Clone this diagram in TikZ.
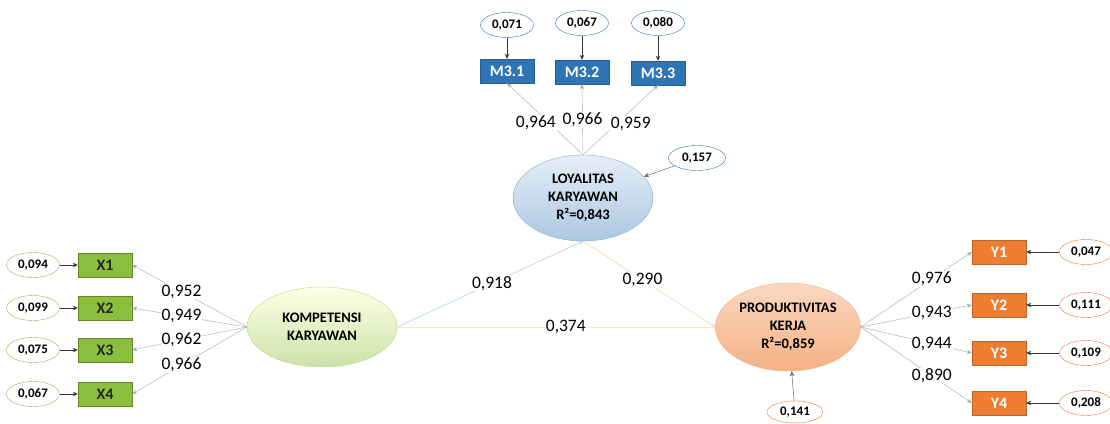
\documentclass[tikz,border=0pt]{standalone}
\usepackage{fontspec}
\setmainfont{Carlito}
\usetikzlibrary{arrows.meta, positioning, shapes.geometric}
\definecolor{mblue}{HTML}{2E75B6}
\definecolor{xgreen}{HTML}{8DBF3E}
\definecolor{yorange}{HTML}{ED7D31}
\definecolor{xolive}{HTML}{A8A85A}

\begin{document}
\begin{tikzpicture}[x=1pt, y=-1pt,
  latent/.style={draw, ellipse, align=center, inner sep=0pt, minimum width=145pt, minimum height=86pt, font=\bfseries\fontsize{14.5}{18}\selectfont},
  indicator/.style={draw, rectangle, minimum width=54pt, minimum height=24pt, font=\bfseries\fontsize{16}{16}\selectfont},
  errnode/.style={draw, ellipse, fill=white, inner sep=0pt, minimum width=53pt, minimum height=25pt, font=\bfseries\fontsize{13}{13}\selectfont},
  coef/.style={fill=white, inner sep=1pt, font=\fontsize{17.5}{17.5}\selectfont},
  load/.style={draw=gray!70, -{Stealth[length=5pt, width=4pt]}},
  errarrow/.style={draw=black!80, line width=1pt, -{Stealth[length=5pt, width=4.5pt]}},
  path/.style={line width=0.6pt, -{Stealth[length=4pt, width=3pt]}}]
\useasboundingbox (0,0) rectangle (1110,423);

% latent variables
\node (kompetensi) [latent, minimum width=150pt, minimum height=80pt, draw=xgreen!60, top color=green!5!yellow!10, bottom color=xgreen!45] at (322,327) {KOMPETENSI\\KARYAWAN};
\node (loyalitas) [latent, minimum width=140pt, draw=mblue!60, top color=mblue!12, bottom color=mblue!40] at (583,198) {LOYALITAS\\KARYAWAN\\R²=0,843};
\node (produktivitas) [latent, minimum height=88pt, draw=yorange!60, top color=yorange!30, bottom color=yorange!60] at (788,327) {PRODUKTIVITAS\\KERJA\\R²=0,859};

% indicators
\node (m1) [indicator, draw=mblue!80!black, fill=mblue, text=white] at (507,71) {M3.1};
\node (m2) [indicator, draw=mblue!80!black, fill=mblue, text=white] at (582,72) {M3.2};
\node (m3) [indicator, draw=mblue!80!black, fill=mblue, text=white] at (658,73) {M3.3};
\node (x1) [indicator, draw=xgreen!70!black, fill=xgreen, text=black!85] at (105,265) {X1};
\node (x2) [indicator, draw=xgreen!70!black, fill=xgreen, text=black!85] at (105,308) {X2};
\node (x3) [indicator, draw=xgreen!70!black, fill=xgreen, text=black!85] at (105,350) {X3};
\node (x4) [indicator, draw=xgreen!70!black, fill=xgreen, text=black!85] at (105,394) {X4};
\node (y1) [indicator, draw=yorange!80!black, fill=yorange, text=white] at (999,252) {Y1};
\node (y2) [indicator, draw=yorange!80!black, fill=yorange, text=white] at (999,305) {Y2};
\node (y3) [indicator, draw=yorange!80!black, fill=yorange, text=white] at (999,353) {Y3};
\node (y4) [indicator, draw=yorange!80!black, fill=yorange, text=white] at (999,403) {Y4};

% error terms
\node (em1) [errnode, draw=mblue] at (507,25) {0,071};
\node (em2) [errnode, draw=mblue] at (582,23) {0,067};
\node (em3) [errnode, draw=mblue] at (658,23) {0,080};
\node (eloy) [errnode, draw=mblue, minimum width=57pt] at (697,158) {0,157};
\node (ex1) [errnode, draw=xolive] at (33,265) {0,094};
\node (ex2) [errnode, draw=xolive] at (33,308) {0,099};
\node (ex3) [errnode, draw=xolive] at (33,350) {0,075};
\node (ex4) [errnode, draw=xolive] at (33,394) {0,067};
\node (ey1) [errnode, draw=yorange] at (1086,252) {0,047};
\node (ey2) [errnode, draw=yorange] at (1086,305) {0,111};
\node (ey3) [errnode, draw=yorange] at (1086,353) {0,109};
\node (ey4) [errnode, draw=yorange] at (1086,403) {0,208};
\node (eprod) [errnode, draw=yorange, minimum width=56pt, minimum height=22pt] at (795,412) {0,141};

% error arrows
\foreach \e/\t in {em1/m1, em2/m2, em3/m3, ex1/x1, ex2/x2, ex3/x3, ex4/x4, ey1/y1, ey2/y2, ey3/y3, ey4/y4}
  \draw[errarrow] (\e) -- (\t);
\draw[errarrow, draw=black!60, line width=0.5pt] (eloy) -- (loyalitas);
\draw[errarrow, draw=black!60, line width=0.5pt] (eprod) -- (produktivitas);

% outer loadings
\draw[load] (loyalitas.north) -- node[coef, pos=0.45, xshift=-13pt] {0,964} (m1.south);
\draw[load] (loyalitas.north) -- node[coef, pos=0.49] {0,966} (m2.south);
\draw[load] (loyalitas.north) -- node[coef, pos=0.45, xshift=14pt] {0,959} (m3.south);
\draw[load] (kompetensi.west) -- node[coef, pos=0.57] {0,952} (x1.east);
\draw[load] (kompetensi.west) -- node[coef, pos=0.57] {0,949} (x2.east);
\draw[load] (kompetensi.west) -- node[coef, pos=0.57] {0,962} (x3.east);
\draw[load] (kompetensi.west) -- node[coef, pos=0.57] {0,966} (x4.east);
\draw[load] (produktivitas.east) -- node[coef, pos=0.64] {0,976} (y1.west);
\draw[load] (produktivitas.east) -- node[coef, pos=0.64] {0,943} (y2.west);
\draw[load] (produktivitas.east) -- node[coef, pos=0.64] {0,944} (y3.west);
\draw[load] (produktivitas.east) -- node[coef, pos=0.64] {0,890} (y4.west);

% inner model
\draw[path, draw=mblue!35] (kompetensi.east) -- node[coef, pos=0.51] {0,918} (loyalitas.south);
\draw[path, draw=yorange!35] (loyalitas.south) -- node[coef, pos=0.45] {0,290} (produktivitas.west);
\draw[path, draw=yellow!50!orange!30] (kompetensi.east) -- node[coef, pos=0.53] {0,374} (produktivitas.west);
\end{tikzpicture}
\end{document}
